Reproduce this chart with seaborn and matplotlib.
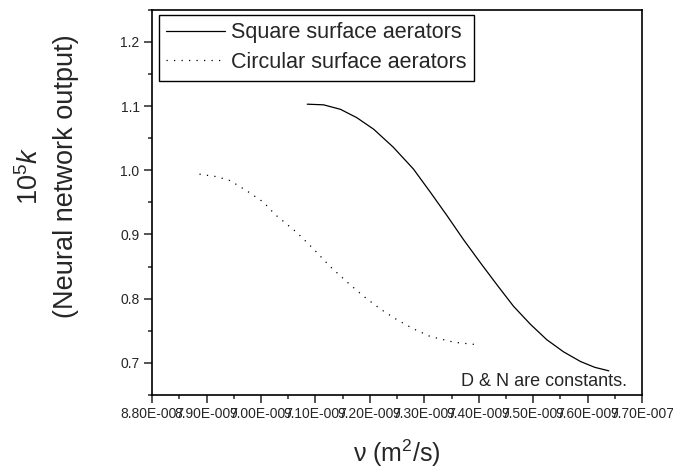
import numpy as np
import pandas as pd
import seaborn as sns
import matplotlib.pyplot as plt
from matplotlib.ticker import MultipleLocator, FuncFormatter

# values (x in m^2/s)
square_nu = [9.085e-7, 9.115e-7, 9.146e-7, 9.176e-7, 9.207e-7, 9.243e-7, 9.280e-7,
             9.311e-7, 9.342e-7, 9.372e-7, 9.403e-7, 9.434e-7, 9.464e-7, 9.495e-7,
             9.525e-7, 9.556e-7, 9.587e-7, 9.613e-7, 9.639e-7]
square_k = [1.103, 1.102, 1.095, 1.082, 1.064, 1.036, 1.002,
            0.966, 0.929, 0.892, 0.856, 0.821, 0.788, 0.760,
            0.736, 0.717, 0.702, 0.693, 0.6875]

circular_nu = [8.887e-7, 8.919e-7, 8.943e-7, 8.974e-7, 9.005e-7, 9.026e-7, 9.066e-7,
               9.097e-7, 9.127e-7, 9.158e-7, 9.188e-7, 9.219e-7, 9.250e-7, 9.280e-7,
               9.311e-7, 9.355e-7, 9.400e-7]
circular_k = [0.994, 0.990, 0.984, 0.968, 0.950, 0.931, 0.903,
              0.877, 0.850, 0.826, 0.804, 0.784, 0.767, 0.753,
              0.741, 0.732, 0.728]

labels = ['Square surface aerators', 'Circular surface aerators']

sns.set_style('ticks')
plt.rcParams['font.family'] = ['Liberation Sans', 'DejaVu Sans']
plt.rcParams['mathtext.fontset'] = 'custom'
plt.rcParams['mathtext.rm'] = 'Liberation Sans'
plt.rcParams['mathtext.it'] = 'Liberation Sans:italic'

fig = plt.figure(figsize=(6.73, 4.69), dpi=100)
ax = fig.add_axes([0.226, 0.158, 0.728, 0.821])

sq = pd.DataFrame({'nu': square_nu, 'k': square_k})
ci = pd.DataFrame({'nu': circular_nu, 'k': circular_k})
sns.lineplot(data=sq, x='nu', y='k', color='black', lw=0.9, label=labels[0], ax=ax)
sns.lineplot(data=ci, x='nu', y='k', color='black', lw=0.9, linestyle=(0, (1, 5)),
             label=labels[1], ax=ax)

ax.set_xlim(8.8e-7, 9.7e-7)
ax.set_ylim(0.65, 1.25)
ax.xaxis.set_major_locator(MultipleLocator(0.1e-7))
ax.xaxis.set_minor_locator(MultipleLocator(0.05e-7))
ax.yaxis.set_major_locator(MultipleLocator(0.1))
ax.yaxis.set_minor_locator(MultipleLocator(0.05))
ax.xaxis.set_major_formatter(FuncFormatter(lambda v, p: f'{v * 1e7:.2f}E-007'))
ax.yaxis.set_major_formatter(FuncFormatter(lambda v, p: f'{v:.1f}'))
ax.tick_params(which='major', direction='out', length=6, width=1.1, labelsize=10, pad=3)
ax.tick_params(which='minor', direction='out', length=3, width=1.1)
for s in ax.spines.values():
    s.set_visible(True)
    s.set_linewidth(1.2)
    s.set_color('black')

ax.set_xlabel('')
ax.set_ylabel('')
fig.text(0.589, 0.034, 'ν (m$^2$/s)', ha='center', va='center', fontsize=18)
fig.text(0.045, 0.625, r'10$^5$$k$', rotation=90, ha='center', va='center', fontsize=19.5)
fig.text(0.098, 0.625, '(Neural network output)', rotation=90, ha='center', va='center',
         fontsize=19.5)

ax.text(0.97, 0.012, 'D & N are constants.', transform=ax.transAxes, ha='right',
        va='bottom', fontsize=13)

leg = ax.legend(loc='upper left', bbox_to_anchor=(0.014, 0.987), borderaxespad=0,
                fancybox=False, framealpha=1, edgecolor='black', fontsize=15.5,
                handlelength=2.7, handletextpad=0.3, labelspacing=0.4,
                borderpad=0.35)
leg.get_frame().set_linewidth(1.0)

fig.savefig('out.png', dpi=100)
